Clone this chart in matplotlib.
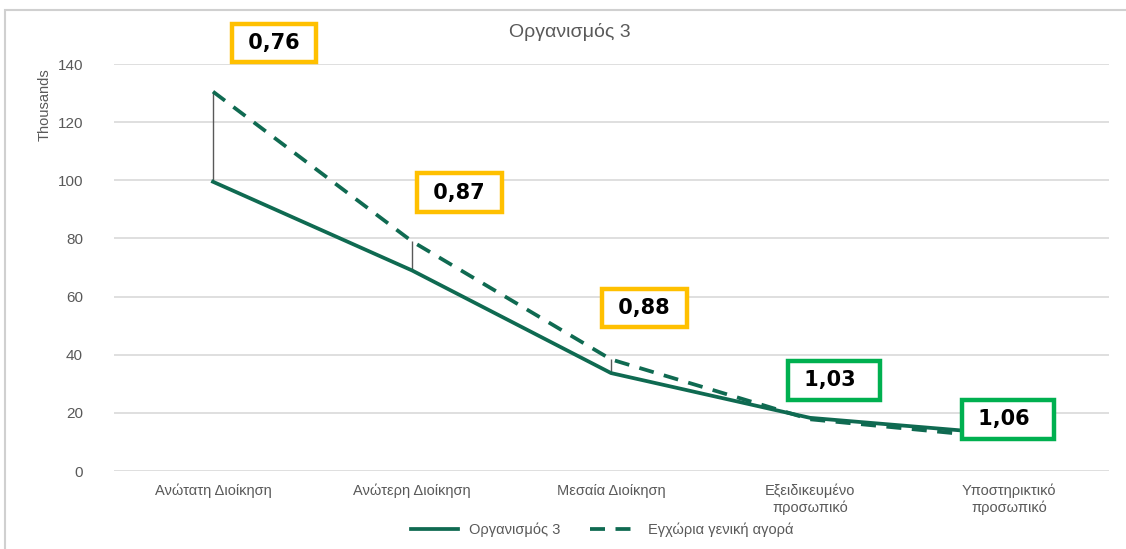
import matplotlib.pyplot as plt
from matplotlib.patches import Rectangle

categories = ['Ανώτατη Διοίκηση', 'Ανώτερη Διοίκηση', 'Μεσαία Διοίκηση',
              'Εξειδικευμένο\nπροσωπικό', 'Υποστηρικτικό\nπροσωπικό']
org = [99.5, 69.0, 33.7, 18.3, 12.6]
market = [130.5, 79.0, 38.4, 17.8, 11.2]
ratio_labels = ['0,76', '0,87', '0,88', '1,03', '1,06']
ratios = [0.76, 0.87, 0.88, 1.03, 1.06]

green = '#0F6A51'
grey = '#595959'

plt.rcParams['font.family'] = ['Liberation Sans', 'DejaVu Sans']

fig = plt.figure(figsize=(11.26, 5.49), dpi=100)
ax = fig.add_axes([0.1008, 0.142, 0.8837, 0.7414])

x = list(range(len(categories)))
ax.vlines(x, org, market, color=grey, linewidth=1, zorder=2)
ax.plot(x, org, color=green, linewidth=2.7, label='Οργανισμός 3', zorder=3)
ax.plot(x, market, color=green, linewidth=2.7, linestyle=(0, (4.0, 2.8)),
        label='Εγχώρια γενική αγορά', zorder=3)

# ratio boxes, offset (points) from the higher of the two points
offsets = [(44, 35), (34, 35), (24, 37), (17, 27), (-1, 11)]
for i, lab in enumerate(ratio_labels):
    col = '#FFC000' if ratios[i] < 1 else '#00B050'
    txt = ' ' + lab + ' ' if ratios[i] < 1 else ' ' + lab + '  '
    ax.annotate(txt, (x[i], max(org[i], market[i])), xytext=offsets[i],
                textcoords='offset points', ha='center', va='center',
                fontsize=15, fontweight='bold', color='black',
                fontfamily=['DejaVu Sans'],
                bbox=dict(boxstyle='square,pad=0.45', fc='white', ec=col, lw=3.2),
                zorder=5, annotation_clip=False)

ax.set_xlim(-0.5, 4.5)
ax.set_ylim(0, 140)
ax.set_yticks(range(0, 141, 20))
ax.set_xticks(x)
ax.set_xticklabels(categories, fontsize=10.5, color=grey)
ax.tick_params(axis='y', length=0, pad=22, labelsize=11, labelcolor=grey)
ax.tick_params(axis='x', length=0, pad=9)
ax.grid(axis='y', color='#D9D9D9', linewidth=1.2)
ax.set_axisbelow(True)
for s in ax.spines.values():
    s.set_visible(False)

ax.set_ylabel('Thousands', fontsize=10.5, color=grey)
ax.yaxis.set_label_coords(-0.062, 0.90)

fig.text(0.506, 0.942, 'Οργανισμός 3', ha='center', va='center',
         fontsize=14, color=grey)

fig.legend(loc='center', bbox_to_anchor=(0.535, 0.035), ncol=2, frameon=False,
           fontsize=10.5, handlelength=3.2, columnspacing=2.0, labelcolor=grey)

fig.patches.append(Rectangle((5 / 1126, -0.02), 1.2, 1.0 - 10 / 549 + 0.02,
                             transform=fig.transFigure, fill=False,
                             ec='#D0D0D0', lw=1.5))

fig.savefig('out.png', dpi=100)
